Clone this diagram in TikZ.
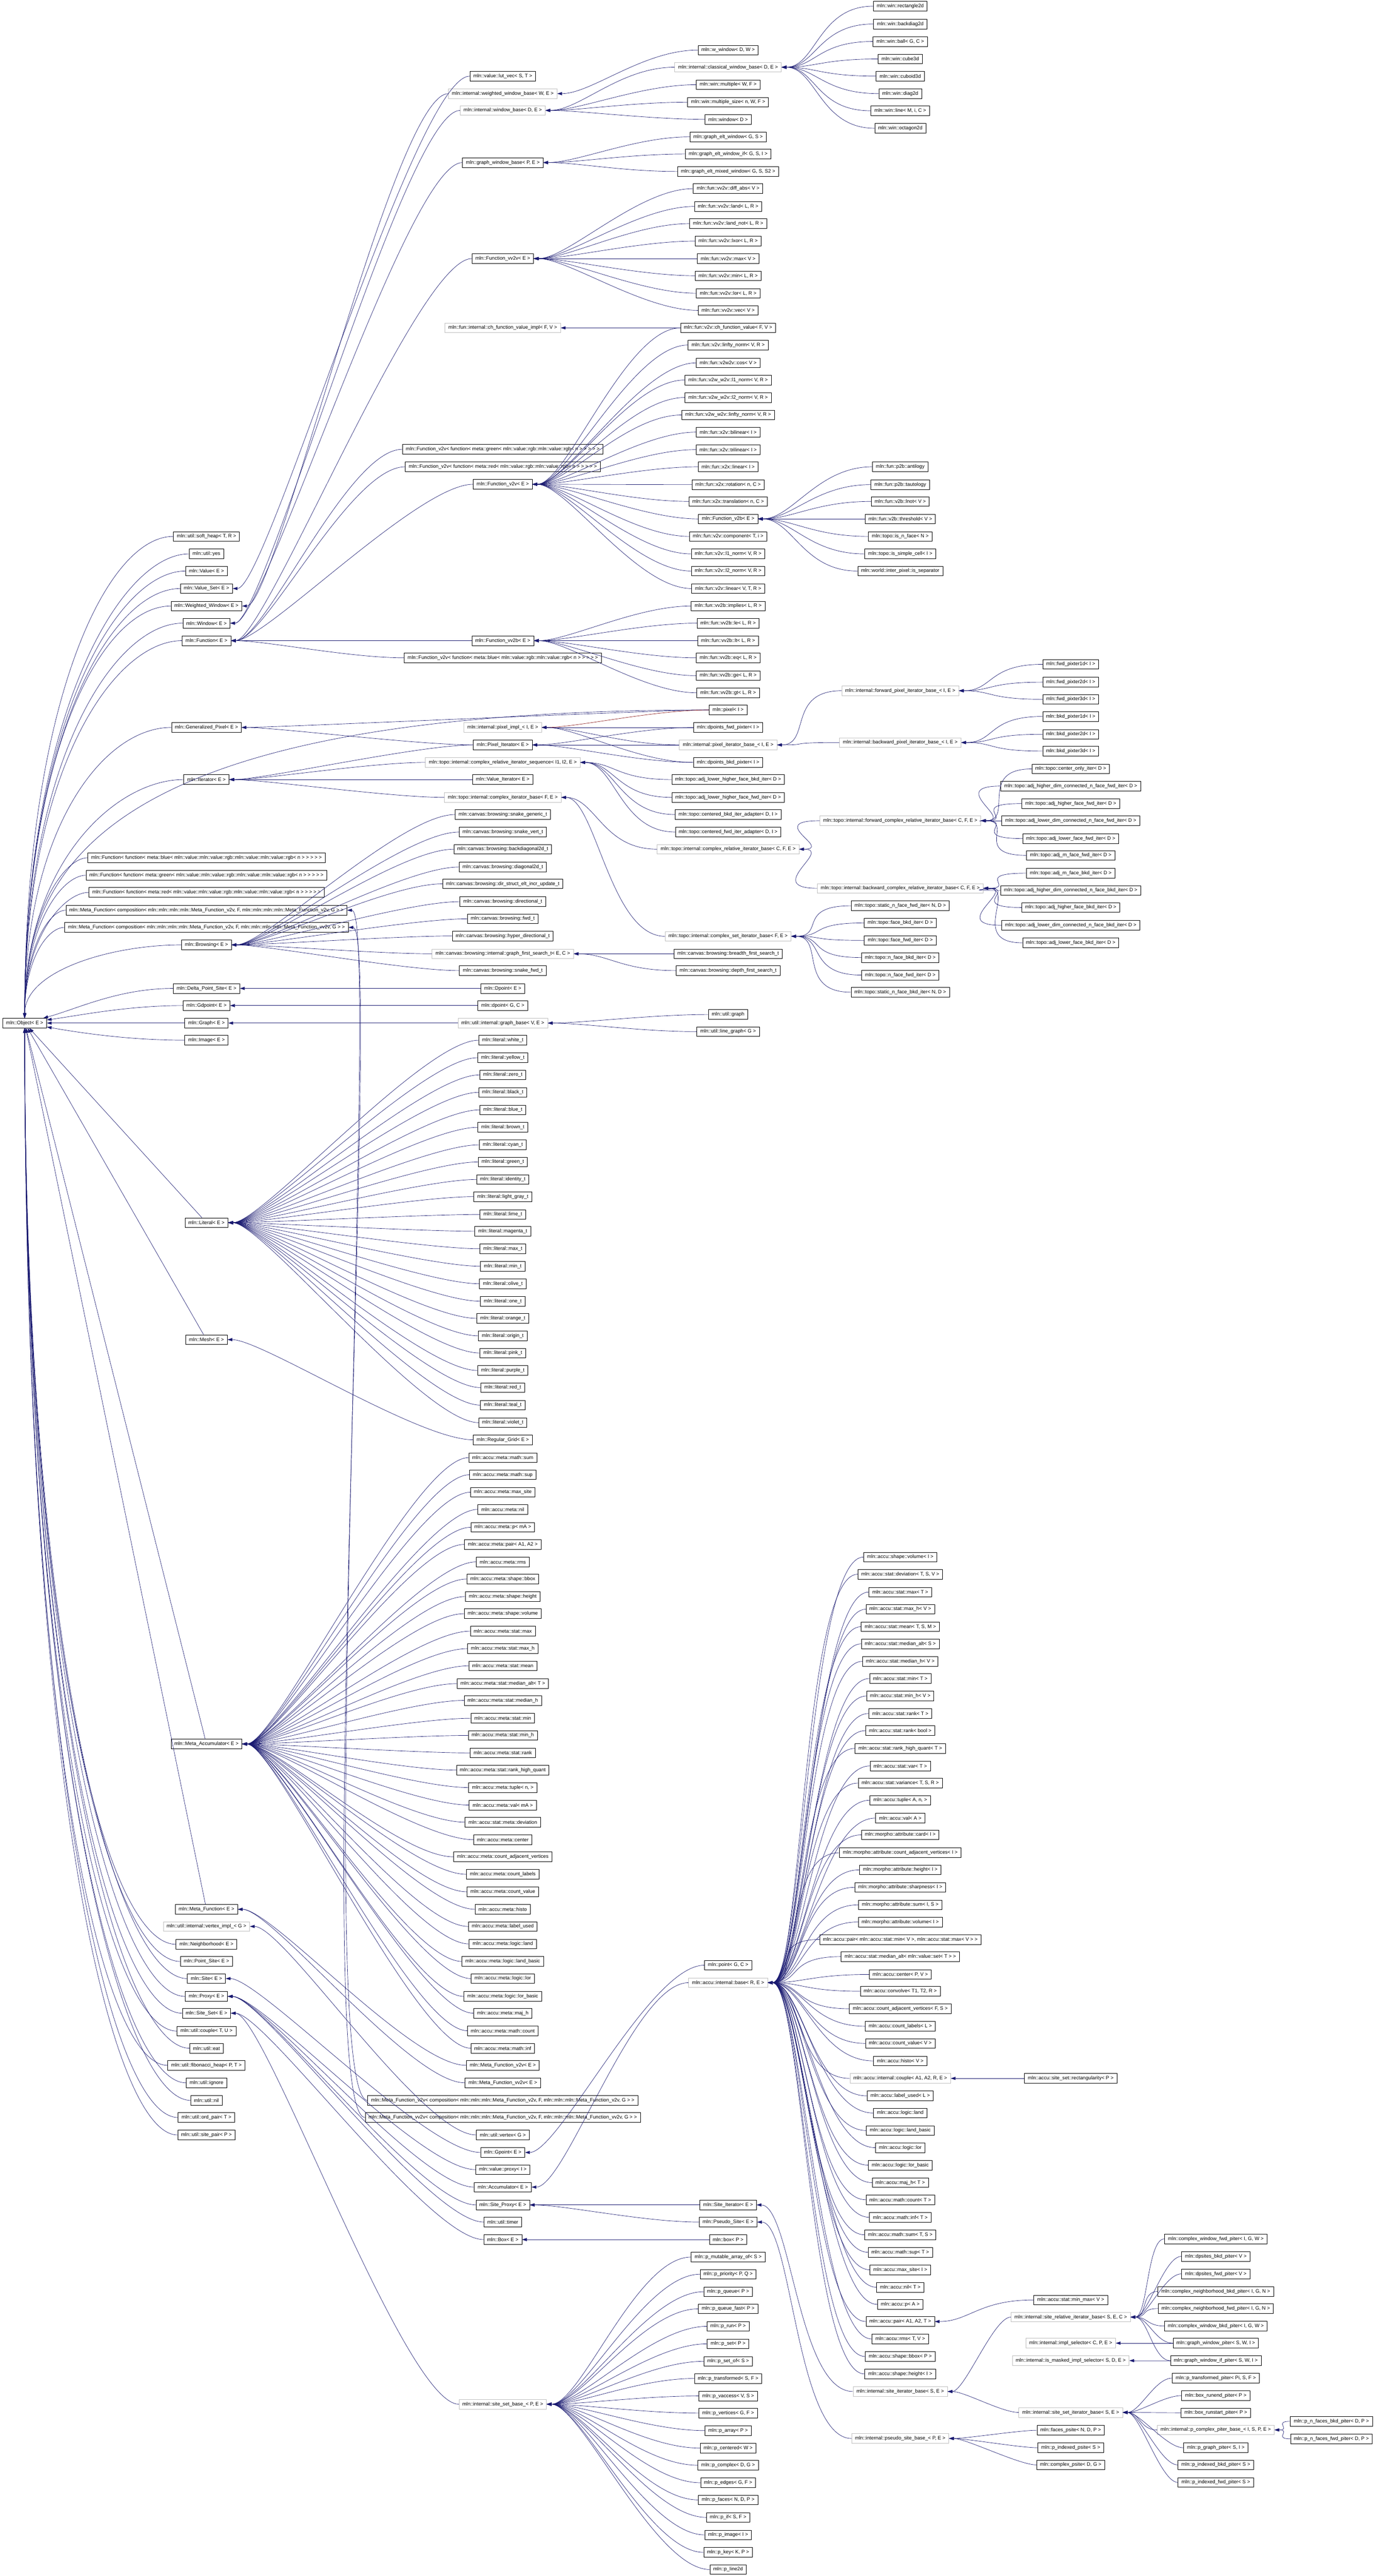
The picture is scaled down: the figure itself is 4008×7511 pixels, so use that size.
\documentclass[tikz,border=0pt]{standalone}
\usepackage{fontspec}
\setmainfont{Liberation Sans}
\usepackage{tikz}
\usetikzlibrary{arrows.meta}
\definecolor{dxblue}{HTML}{191970}
\definecolor{dxred}{HTML}{8B1A1A}
\definecolor{dxgrey}{HTML}{BFBFBF}
\newcommand{\dxfont}{\fontsize{1.45}{1.7}\selectfont}

\begin{document}
\begin{tikzpicture}[x=0.1pt, y=-0.1pt,
  cls/.style={draw, line width=0.1pt, font=\dxfont, inner xsep=1pt, inner ysep=0pt, minimum height=2.8pt},
  icls/.style={cls, draw=dxgrey},
  inh/.style={draw=dxblue, line width=0.1pt, -{Triangle[length=1.4pt,width=0.9pt]}, out=180, in=0, out distance=16pt, in distance=10pt},
  tight/.style={inh, out distance=5pt, in distance=5pt},
  priv/.style={inh, draw=dxred},
  upobj/.style 2 args={inh, in=90, out distance=#1, in distance=#2},
  downobj/.style 2 args={inh, in=-90, out distance=#1, in distance=#2},
  inhline/.style={draw=dxblue, line width=0.1pt, -{Triangle[length=1.4pt,width=0.9pt]}}]

  \useasboundingbox (0,0) rectangle (4008,7511);

  \node[cls]  (object)      at (72, 2983)   {mln::Object< E >};

  \node[cls]  (softheap)    at (602, 1564)  {mln::util::soft\_heap< T, R >};
  \node[cls]  (utilyes)     at (602, 1615)  {mln::util::yes};
  \node[cls]  (value)       at (602, 1665)  {mln::Value< E >};
  \node[cls]  (valueset)    at (602, 1716)  {mln::Value\_Set< E >};
  \node[cls]  (wwindow)     at (602, 1767)  {mln::Weighted\_Window< E >};
  \node[cls]  (window)      at (602, 1817)  {mln::Window< E >};
  \node[cls]  (function)    at (602, 1868)  {mln::Function< E >};
  \node[cls]  (genpixel)    at (602, 2121)  {mln::Generalized\_Pixel< E >};
  \node[cls]  (iterator)    at (602, 2273)  {mln::Iterator< E >};
  \node[cls]  (fblue)       at (602, 2501)  {mln::Function< function< meta::blue< mln::value::mln::value::rgb::mln::value::mln::value::rgb< n > > > > >};
  \node[cls]  (fgreen)      at (602, 2552)  {mln::Function< function< meta::green< mln::value::mln::value::rgb::mln::value::mln::value::rgb< n > > > > >};
  \node[cls]  (fred)        at (602, 2602)  {mln::Function< function< meta::red< mln::value::mln::value::rgb::mln::value::mln::value::rgb< n > > > > >};
  \node[cls]  (mfcompa)     at (602, 2654)  {mln::Meta\_Function< composition< mln::mln::mln::mln::Meta\_Function\_v2v, F, mln::mln::mln::mln::Meta\_Function\_v2v, G > >};
  \node[cls]  (mfcompb)     at (602, 2704)  {mln::Meta\_Function< composition< mln::mln::mln::mln::Meta\_Function\_v2v, F, mln::mln::mln::mln::Meta\_Function\_vv2v, G > >};
  \node[cls]  (browsing)    at (602, 2755)  {mln::Browsing< E >};
  \node[cls]  (deltapsite)  at (602, 2882)  {mln::Delta\_Point\_Site< E >};
  \node[cls]  (gdpoint)     at (602, 2932)  {mln::Gdpoint< E >};
  \node[cls]  (graph)       at (602, 2983)  {mln::Graph< E >};
  \node[cls]  (image)       at (602, 3033)  {mln::Image< E >};
  \node[cls]  (literal)     at (602, 3565)  {mln::Literal< E >};
  \node[cls]  (mesh)        at (602, 3906)  {mln::Mesh< E >};
  \node[cls]  (metaaccu)    at (602, 5085)  {mln::Meta\_Accumulator< E >};
  \node[cls]  (metafun)     at (602, 5567)  {mln::Meta\_Function< E >};
  \node[icls] (vertexeximpl) at (602, 5617) {mln::util::internal::vertex\_impl\_< G >};
  \node[cls]  (neighb)      at (602, 5669)  {mln::Neighborhood< E >};
  \node[cls]  (pointsite)   at (602, 5719)  {mln::Point\_Site< E >};
  \node[cls]  (site)        at (602, 5769)  {mln::Site< E >};
  \node[cls]  (proxy)       at (602, 5821)  {mln::Proxy< E >};
  \node[cls]  (siteset)     at (602, 5870)  {mln::Site\_Set< E >};
  \node[cls]  (couple)      at (602, 5922)  {mln::util::couple< T, U >};
  \node[cls]  (eat)         at (602, 5972)  {mln::util::eat};
  \node[cls]  (fibheap)     at (602, 6022)  {mln::util::fibonacci\_heap< P, T >};
  \node[cls]  (ignore)      at (602, 6073)  {mln::util::ignore};
  \node[cls]  (nil)         at (602, 6124)  {mln::util::nil};
  \node[cls]  (ordpair)     at (602, 6174)  {mln::util::ord\_pair< T >};
  \node[cls]  (sitepair)    at (602, 6225)  {mln::util::site\_pair< P >};

  \node[cls]  (lutvec)      at (1466, 222)  {mln::value::lut\_vec< S, T >};
  \node[icls] (wwinbase)    at (1466, 273)  {mln::internal::weighted\_window\_base< W, E >};
  \node[icls] (winbase)     at (1466, 322)  {mln::internal::window\_base< D, E >};
  \node[cls]  (graphwinbase) at (1466, 474) {mln::graph\_window\_base< P, E >};
  \node[cls]  (fvv2v)       at (1466, 754)  {mln::Function\_vv2v< E >};
  \node[icls] (chfvimpl)    at (1466, 956)  {mln::fun::internal::ch\_function\_value\_impl< F, V >};
  \node[cls]  (fv2vgreen)   at (1466, 1310) {mln::Function\_v2v< function< meta::green< mln::value::rgb::mln::value::rgb< n > > > > >};
  \node[cls]  (fv2vred)     at (1466, 1361) {mln::Function\_v2v< function< meta::red< mln::value::rgb::mln::value::rgb< n > > > > >};
  \node[cls]  (fv2v)        at (1466, 1412) {mln::Function\_v2v< E >};
  \node[cls]  (fvv2b)       at (1466, 1868) {mln::Function\_vv2b< E >};
  \node[cls]  (fv2vblue)    at (1466, 1918) {mln::Function\_v2v< function< meta::blue< mln::value::rgb::mln::value::rgb< n > > > > >};
  \node[icls] (piximpl)     at (1466, 2121) {mln::internal::pixel\_impl\_< I, E >};
  \node[cls]  (pixiter)     at (1466, 2172) {mln::Pixel\_Iterator< E >};
  \node[icls] (crisequence) at (1466, 2223) {mln::topo::internal::complex\_relative\_iterator\_sequence< I1, I2, E >};
  \node[cls]  (valueiter)   at (1466, 2273) {mln::Value\_Iterator< E >};
  \node[icls] (cplxiterbase) at (1466, 2325) {mln::topo::internal::complex\_iterator\_base< F, E >};
  \node[cls]  (snakegeneric) at (1466, 2375) {mln::canvas::browsing::snake\_generic\_t};
  \node[cls]  (snakevert)   at (1466, 2426) {mln::canvas::browsing::snake\_vert\_t};
  \node[cls]  (backdiag)    at (1466, 2476) {mln::canvas::browsing::backdiagonal2d\_t};
  \node[cls]  (diag)        at (1466, 2528) {mln::canvas::browsing::diagonal2d\_t};
  \node[cls]  (dirstruct)   at (1466, 2577) {mln::canvas::browsing::dir\_struct\_elt\_incr\_update\_t};
  \node[cls]  (directional) at (1466, 2629) {mln::canvas::browsing::directional\_t};
  \node[cls]  (fwdt)        at (1466, 2679) {mln::canvas::browsing::fwd\_t};
  \node[cls]  (hyperdir)    at (1466, 2729) {mln::canvas::browsing::hyper\_directional\_t};
  \node[icls] (graphfirst)  at (1466, 2781) {mln::canvas::browsing::internal::graph\_first\_search\_t< E, C >};
  \node[cls]  (snakefwd)    at (1466, 2830) {mln::canvas::browsing::snake\_fwd\_t};
  \node[cls]  (dpointE)     at (1466, 2882) {mln::Dpoint< E >};
  \node[cls]  (dpointGC)    at (1466, 2932) {mln::dpoint< G, C >};
  \node[icls] (graphbase)   at (1466, 2983) {mln::util::internal::graph\_base< V, E >};
  \node[cls]  (lwhite)      at (1466, 3033) {mln::literal::white\_t};
  \node[cls]  (lyellow)     at (1466, 3084) {mln::literal::yellow\_t};
  \node[cls]  (lzero)       at (1466, 3134) {mln::literal::zero\_t};
  \node[cls]  (lblack)      at (1466, 3185) {mln::literal::black\_t};
  \node[cls]  (lblue)       at (1466, 3236) {mln::literal::blue\_t};
  \node[cls]  (lbrown)      at (1466, 3287) {mln::literal::brown\_t};
  \node[cls]  (lcyan)       at (1466, 3338) {mln::literal::cyan\_t};
  \node[cls]  (lgreen)      at (1466, 3388) {mln::literal::green\_t};
  \node[cls]  (lidentity)   at (1466, 3439) {mln::literal::identity\_t};
  \node[cls]  (llightgray)  at (1466, 3489) {mln::literal::light\_gray\_t};
  \node[cls]  (llime)       at (1466, 3541) {mln::literal::lime\_t};
  \node[cls]  (lmagenta)    at (1466, 3590) {mln::literal::magenta\_t};
  \node[cls]  (lmax)        at (1466, 3641) {mln::literal::max\_t};
  \node[cls]  (lmin)        at (1466, 3692) {mln::literal::min\_t};
  \node[cls]  (lolive)      at (1466, 3743) {mln::literal::olive\_t};
  \node[cls]  (lone)        at (1466, 3794) {mln::literal::one\_t};
  \node[cls]  (lorange)     at (1466, 3844) {mln::literal::orange\_t};
  \node[cls]  (lorigin)     at (1466, 3895) {mln::literal::origin\_t};
  \node[cls]  (lpink)       at (1466, 3945) {mln::literal::pink\_t};
  \node[cls]  (lpurple)     at (1466, 3996) {mln::literal::purple\_t};
  \node[cls]  (lred)        at (1466, 4046) {mln::literal::red\_t};
  \node[cls]  (lteal)       at (1466, 4097) {mln::literal::teal\_t};
  \node[cls]  (lviolet)     at (1466, 4148) {mln::literal::violet\_t};
  \node[cls]  (reggrid)     at (1466, 4198) {mln::Regular\_Grid< E >};
  \node[cls]  (amsum)       at (1466, 4250) {mln::accu::meta::math::sum};
  \node[cls]  (amsup)       at (1466, 4300) {mln::accu::meta::math::sup};
  \node[cls]  (ammaxsite)   at (1466, 4351) {mln::accu::meta::max\_site};
  \node[cls]  (amnil)       at (1466, 4401) {mln::accu::meta::nil};
  \node[cls]  (amp)         at (1466, 4453) {mln::accu::meta::p< mA >};
  \node[cls]  (ampair)      at (1466, 4503) {mln::accu::meta::pair< A1, A2 >};
  \node[cls]  (amrms)       at (1466, 4554) {mln::accu::meta::rms};
  \node[cls]  (ambbox)      at (1466, 4604) {mln::accu::meta::shape::bbox};
  \node[cls]  (amheight)    at (1466, 4655) {mln::accu::meta::shape::height};
  \node[cls]  (amvolume)    at (1466, 4705) {mln::accu::meta::shape::volume};
  \node[cls]  (amstmax)     at (1466, 4756) {mln::accu::meta::stat::max};
  \node[cls]  (amstmaxh)    at (1466, 4807) {mln::accu::meta::stat::max\_h};
  \node[cls]  (amstmean)    at (1466, 4857) {mln::accu::meta::stat::mean};
  \node[cls]  (amstmedalt)  at (1466, 4909) {mln::accu::meta::stat::median\_alt< T >};
  \node[cls]  (amstmedh)    at (1466, 4958) {mln::accu::meta::stat::median\_h};
  \node[cls]  (amstmin)     at (1466, 5010) {mln::accu::meta::stat::min};
  \node[cls]  (amstminh)    at (1466, 5060) {mln::accu::meta::stat::min\_h};
  \node[cls]  (amstrank)    at (1466, 5111) {mln::accu::meta::stat::rank};
  \node[cls]  (amstrankhq)  at (1466, 5161) {mln::accu::meta::stat::rank\_high\_quant};
  \node[cls]  (amtuple)     at (1466, 5212) {mln::accu::meta::tuple< n, >};
  \node[cls]  (amval)       at (1466, 5263) {mln::accu::meta::val< mA >};
  \node[cls]  (amdeviation) at (1466, 5313) {mln::accu::stat::meta::deviation};
  \node[cls]  (amcenter)    at (1466, 5364) {mln::accu::meta::center};
  \node[cls]  (amcountadj)  at (1466, 5414) {mln::accu::meta::count\_adjacent\_vertices};
  \node[cls]  (amcountlabels) at (1466, 5465) {mln::accu::meta::count\_labels};
  \node[cls]  (amcountvalue) at (1466, 5516) {mln::accu::meta::count\_value};
  \node[cls]  (amhisto)     at (1466, 5567) {mln::accu::meta::histo};
  \node[cls]  (amlabelused) at (1466, 5617) {mln::accu::meta::label\_used};
  \node[cls]  (amland)      at (1466, 5668) {mln::accu::meta::logic::land};
  \node[cls]  (amlandbasic) at (1466, 5719) {mln::accu::meta::logic::land\_basic};
  \node[cls]  (amlor)       at (1466, 5769) {mln::accu::meta::logic::lor};
  \node[cls]  (amlorbasic)  at (1466, 5821) {mln::accu::meta::logic::lor\_basic};
  \node[cls]  (ammajh)      at (1466, 5870) {mln::accu::meta::maj\_h};
  \node[cls]  (ammathcount) at (1466, 5921) {mln::accu::meta::math::count};
  \node[cls]  (ammathinf)   at (1466, 5972) {mln::accu::meta::math::inf};
  \node[cls]  (mfv2v)       at (1466, 6022) {mln::Meta\_Function\_v2v< E >};
  \node[cls]  (mfvv2v)      at (1466, 6073) {mln::Meta\_Function\_vv2v< E >};
  \node[cls]  (mfv2vcomp)   at (1466, 6124) {mln::Meta\_Function\_v2v< composition< mln::mln::mln::Meta\_Function\_v2v, F, mln::mln::mln::Meta\_Function\_v2v, G > >};
  \node[cls]  (mfvv2vcomp)  at (1466, 6174) {mln::Meta\_Function\_vv2v< composition< mln::mln::mln::Meta\_Function\_v2v, F, mln::mln::mln::Meta\_Function\_vv2v, G > >};
  \node[cls]  (utilvertex)  at (1466, 6225) {mln::util::vertex< G >};
  \node[cls]  (gpoint)      at (1466, 6276) {mln::Gpoint< E >};
  \node[cls]  (valueproxy)  at (1466, 6326) {mln::value::proxy< I >};
  \node[cls]  (accumulator) at (1466, 6377) {mln::Accumulator< E >};
  \node[cls]  (siteproxy)   at (1466, 6429) {mln::Site\_Proxy< E >};
  \node[cls]  (timer)       at (1466, 6479) {mln::util::timer};
  \node[cls]  (boxE)        at (1466, 6530) {mln::Box< E >};
  \node[icls] (sitesetbase) at (1466, 7010) {mln::internal::site\_set\_base\_< P, E >};

  \node[cls]  (wwindowDW)   at (2123, 146)  {mln::w\_window< D, W >};
  \node[icls] (classicalwin) at (2123, 196) {mln::internal::classical\_window\_base< D, E >};
  \node[cls]  (winmultiple) at (2123, 247)  {mln::win::multiple< W, F >};
  \node[cls]  (winmultsize) at (2123, 298)  {mln::win::multiple\_size< n, W, F >};
  \node[cls]  (windowD)     at (2123, 348)  {mln::window< D >};
  \node[cls]  (graphelt)    at (2123, 399)  {mln::graph\_elt\_window< G, S >};
  \node[cls]  (grapheltif)  at (2123, 449)  {mln::graph\_elt\_window\_if< G, S, I >};
  \node[cls]  (grapheltmixed) at (2123, 500) {mln::graph\_elt\_mixed\_window< G, S, S2 >};
  \node[cls]  (diffabs)     at (2123, 550)  {mln::fun::vv2v::diff\_abs< V >};
  \node[cls]  (vvland)      at (2123, 602)  {mln::fun::vv2v::land< L, R >};
  \node[cls]  (vvlandnot)   at (2123, 652)  {mln::fun::vv2v::land\_not< L, R >};
  \node[cls]  (vvlxor)      at (2123, 703)  {mln::fun::vv2v::lxor< L, R >};
  \node[cls]  (vvmax)       at (2123, 754)  {mln::fun::vv2v::max< V >};
  \node[cls]  (vvmin)       at (2123, 804)  {mln::fun::vv2v::min< L, R >};
  \node[cls]  (vvlor)       at (2123, 855)  {mln::fun::vv2v::lor< L, R >};
  \node[cls]  (vvvec)       at (2123, 905)  {mln::fun::vv2v::vec< V >};
  \node[cls]  (chfv)        at (2123, 956)  {mln::fun::v2v::ch\_function\_value< F, V >};
  \node[cls]  (linftynorm)  at (2123, 1006) {mln::fun::v2v::linfty\_norm< V, R >};
  \node[cls]  (v2w2vcos)    at (2123, 1058) {mln::fun::v2w2v::cos< V >};
  \node[cls]  (wl1norm)     at (2123, 1108) {mln::fun::v2w\_w2v::l1\_norm< V, R >};
  \node[cls]  (wl2norm)     at (2123, 1159) {mln::fun::v2w\_w2v::l2\_norm< V, R >};
  \node[cls]  (wlinfty)     at (2123, 1210) {mln::fun::v2w\_w2v::linfty\_norm< V, R >};
  \node[cls]  (bilinear)    at (2123, 1260) {mln::fun::x2v::bilinear< I >};
  \node[cls]  (trilinear)   at (2123, 1311) {mln::fun::x2v::trilinear< I >};
  \node[cls]  (x2xlinear)   at (2123, 1361) {mln::fun::x2x::linear< I >};
  \node[cls]  (rotation)    at (2123, 1413) {mln::fun::x2x::rotation< n, C >};
  \node[cls]  (translation) at (2123, 1462) {mln::fun::x2x::translation< n, C >};
  \node[cls]  (fv2b)        at (2123, 1513) {mln::Function\_v2b< E >};
  \node[cls]  (component)   at (2123, 1564) {mln::fun::v2v::component< T, i >};
  \node[cls]  (l1norm)      at (2123, 1615) {mln::fun::v2v::l1\_norm< V, R >};
  \node[cls]  (l2norm)      at (2123, 1665) {mln::fun::v2v::l2\_norm< V, R >};
  \node[cls]  (v2vlinear)   at (2123, 1716) {mln::fun::v2v::linear< V, T, R >};
  \node[cls]  (implies)     at (2123, 1767) {mln::fun::vv2b::implies< L, R >};
  \node[cls]  (le)          at (2123, 1817) {mln::fun::vv2b::le< L, R >};
  \node[cls]  (lt)          at (2123, 1868) {mln::fun::vv2b::lt< L, R >};
  \node[cls]  (eq)          at (2123, 1918) {mln::fun::vv2b::eq< L, R >};
  \node[cls]  (ge)          at (2123, 1970) {mln::fun::vv2b::ge< L, R >};
  \node[cls]  (gt)          at (2123, 2020) {mln::fun::vv2b::gt< L, R >};
  \node[cls]  (pixel)       at (2123, 2070) {mln::pixel< I >};
  \node[cls]  (dpfwdpix)    at (2123, 2121) {mln::dpoints\_fwd\_pixter< I >};
  \node[icls] (pixiterbase) at (2123, 2172) {mln::internal::pixel\_iterator\_base\_< I, E >};
  \node[cls]  (dpbkdpix)    at (2123, 2223) {mln::dpoints\_bkd\_pixter< I >};
  \node[cls]  (alhfbkd)     at (2123, 2273) {mln::topo::adj\_lower\_higher\_face\_bkd\_iter< D >};
  \node[cls]  (alhffwd)     at (2123, 2325) {mln::topo::adj\_lower\_higher\_face\_fwd\_iter< D >};
  \node[cls]  (centbkd)     at (2123, 2375) {mln::topo::centered\_bkd\_iter\_adapter< D, I >};
  \node[cls]  (centfwd)     at (2123, 2426) {mln::topo::centered\_fwd\_iter\_adapter< D, I >};
  \node[icls] (crelbase)    at (2123, 2476) {mln::topo::internal::complex\_relative\_iterator\_base< C, F, E >};
  \node[icls] (csetbase)    at (2123, 2730) {mln::topo::internal::complex\_set\_iterator\_base< F, E >};
  \node[cls]  (bfs)         at (2123, 2781) {mln::canvas::browsing::breadth\_first\_search\_t};
  \node[cls]  (dfs)         at (2123, 2830) {mln::canvas::browsing::depth\_first\_search\_t};
  \node[cls]  (utilgraph)   at (2123, 2958) {mln::util::graph};
  \node[cls]  (linegraph)   at (2123, 3008) {mln::util::line\_graph< G >};
  \node[cls]  (pointGC)     at (2123, 5730) {mln::point< G, C >};
  \node[icls] (accubase)    at (2123, 5781) {mln::accu::internal::base< R, E >};
  \node[cls]  (siteiter)    at (2123, 6429) {mln::Site\_Iterator< E >};
  \node[cls]  (pseudosite)  at (2123, 6479) {mln::Pseudo\_Site< E >};
  \node[cls]  (boxP)        at (2123, 6530) {mln::box< P >};
  \node[cls]  (pmutarr)     at (2123, 6581) {mln::p\_mutable\_array\_of< S >};
  \node[cls]  (ppriority)   at (2123, 6631) {mln::p\_priority< P, Q >};
  \node[cls]  (pqueue)      at (2123, 6682) {mln::p\_queue< P >};
  \node[cls]  (pqueuefast)  at (2123, 6732) {mln::p\_queue\_fast< P >};
  \node[cls]  (prun)        at (2123, 6783) {mln::p\_run< P >};
  \node[cls]  (pset)        at (2123, 6834) {mln::p\_set< P >};
  \node[cls]  (psetof)      at (2123, 6885) {mln::p\_set\_of< S >};
  \node[cls]  (ptransf)     at (2123, 6935) {mln::p\_transformed< S, F >};
  \node[cls]  (pvaccess)    at (2123, 6986) {mln::p\_vaccess< V, S >};
  \node[cls]  (pvertices)   at (2123, 7036) {mln::p\_vertices< G, F >};
  \node[cls]  (parray)      at (2123, 7087) {mln::p\_array< P >};
  \node[cls]  (pcentered)   at (2123, 7138) {mln::p\_centered< W >};
  \node[cls]  (pcomplex)    at (2123, 7188) {mln::p\_complex< D, G >};
  \node[cls]  (pedges)      at (2123, 7239) {mln::p\_edges< G, F >};
  \node[cls]  (pfaces)      at (2123, 7289) {mln::p\_faces< N, D, P >};
  \node[cls]  (pif)         at (2123, 7340) {mln::p\_if< S, F >};
  \node[cls]  (pimage)      at (2123, 7391) {mln::p\_image< I >};
  \node[cls]  (pkey)        at (2123, 7442) {mln::p\_key< K, P >};
  \node[cls]  (pline2d)     at (2123, 7492) {mln::p\_line2d};

  \node[cls]  (rect2d)      at (2625, 18)   {mln::win::rectangle2d};
  \node[cls]  (backdiag2d)  at (2625, 70)   {mln::win::backdiag2d};
  \node[cls]  (ball)        at (2625, 121)  {mln::win::ball< G, C >};
  \node[cls]  (cube3d)      at (2625, 172)  {mln::win::cube3d};
  \node[cls]  (cuboid3d)    at (2625, 222)  {mln::win::cuboid3d};
  \node[cls]  (diag2d)      at (2625, 273)  {mln::win::diag2d};
  \node[cls]  (winline)     at (2625, 323)  {mln::win::line< M, i, C >};
  \node[cls]  (octagon2d)   at (2625, 374)  {mln::win::octagon2d};
  \node[cls]  (antilogy)    at (2625, 1361) {mln::fun::p2b::antilogy};
  \node[cls]  (tautology)   at (2625, 1413) {mln::fun::p2b::tautology};
  \node[cls]  (lnot)        at (2625, 1462) {mln::fun::v2b::lnot< V >};
  \node[cls]  (threshold)   at (2625, 1513) {mln::fun::v2b::threshold< V >};
  \node[cls]  (isnface)     at (2625, 1564) {mln::topo::is\_n\_face< N >};
  \node[cls]  (issimple)    at (2625, 1615) {mln::topo::is\_simple\_cell< I >};
  \node[cls]  (isseparator) at (2625, 1665) {mln::world::inter\_pixel::is\_separator};
  \node[icls] (fwdpixbase)  at (2625, 2014) {mln::internal::forward\_pixel\_iterator\_base\_< I, E >};
  \node[icls] (bkdpixbase)  at (2625, 2165) {mln::internal::backward\_pixel\_iterator\_base\_< I, E >};
  \node[icls] (fwdcrelbase) at (2625, 2393) {mln::topo::internal::forward\_complex\_relative\_iterator\_base< C, F, E >};
  \node[icls] (bkdcrelbase) at (2625, 2590) {mln::topo::internal::backward\_complex\_relative\_iterator\_base< C, F, E >};
  \node[cls]  (snffwd)      at (2625, 2641) {mln::topo::static\_n\_face\_fwd\_iter< N, D >};
  \node[cls]  (facebkd)     at (2625, 2691) {mln::topo::face\_bkd\_iter< D >};
  \node[cls]  (facefwd)     at (2625, 2742) {mln::topo::face\_fwd\_iter< D >};
  \node[cls]  (nfacebkd)    at (2625, 2792) {mln::topo::n\_face\_bkd\_iter< D >};
  \node[cls]  (nfacefwd)    at (2625, 2843) {mln::topo::n\_face\_fwd\_iter< D >};
  \node[cls]  (snfbkd)      at (2625, 2893) {mln::topo::static\_n\_face\_bkd\_iter< N, D >};
  \node[cls]  (ashvolume)   at (2625, 4540) {mln::accu::shape::volume< I >};
  \node[cls]  (adeviation)  at (2625, 4590) {mln::accu::stat::deviation< T, S, V >};
  \node[cls]  (astmax)      at (2625, 4642) {mln::accu::stat::max< T >};
  \node[cls]  (astmaxh)     at (2625, 4692) {mln::accu::stat::max\_h< V >};
  \node[cls]  (astmean)     at (2625, 4743) {mln::accu::stat::mean< T, S, M >};
  \node[cls]  (astmedalt)   at (2625, 4793) {mln::accu::stat::median\_alt< S >};
  \node[cls]  (astmedh)     at (2625, 4844) {mln::accu::stat::median\_h< V >};
  \node[cls]  (astmin)      at (2625, 4894) {mln::accu::stat::min< T >};
  \node[cls]  (astminh)     at (2625, 4945) {mln::accu::stat::min\_h< V >};
  \node[cls]  (astrank)     at (2625, 4996) {mln::accu::stat::rank< T >};
  \node[cls]  (astrankbool) at (2625, 5046) {mln::accu::stat::rank< bool >};
  \node[cls]  (astrankhq)   at (2625, 5098) {mln::accu::stat::rank\_high\_quant< T >};
  \node[cls]  (astvar)      at (2625, 5149) {mln::accu::stat::var< T >};
  \node[cls]  (astvariance) at (2625, 5199) {mln::accu::stat::variance< T, S, R >};
  \node[cls]  (atuple)      at (2625, 5249) {mln::accu::tuple< A, n, >};
  \node[cls]  (aval)        at (2625, 5301) {mln::accu::val< A >};
  \node[cls]  (macard)      at (2625, 5350) {mln::morpho::attribute::card< I >};
  \node[cls]  (macountadj)  at (2625, 5402) {mln::morpho::attribute::count\_adjacent\_vertices< I >};
  \node[cls]  (maheight)    at (2625, 5452) {mln::morpho::attribute::height< I >};
  \node[cls]  (masharp)     at (2625, 5503) {mln::morpho::attribute::sharpness< I >};
  \node[cls]  (masum)       at (2625, 5554) {mln::morpho::attribute::sum< I, S >};
  \node[cls]  (mavolume)    at (2625, 5604) {mln::morpho::attribute::volume< I >};
  \node[cls]  (apairminmax) at (2625, 5655) {mln::accu::pair< mln::accu::stat::min< V >, mln::accu::stat::max< V > >};
  \node[cls]  (amedaltset)  at (2625, 5705) {mln::accu::stat::median\_alt< mln::value::set< T > >};
  \node[cls]  (acenter)     at (2625, 5757) {mln::accu::center< P, V >};
  \node[cls]  (aconvolve)   at (2625, 5806) {mln::accu::convolve< T1, T2, R >};
  \node[cls]  (acountadj)   at (2625, 5857) {mln::accu::count\_adjacent\_vertices< F, S >};
  \node[cls]  (acountlabels) at (2625, 5908) {mln::accu::count\_labels< L >};
  \node[cls]  (acountvalue) at (2625, 5958) {mln::accu::count\_value< V >};
  \node[cls]  (ahisto)      at (2625, 6009) {mln::accu::histo< V >};
  \node[icls] (acouple)     at (2625, 6060) {mln::accu::internal::couple< A1, A2, R, E >};
  \node[cls]  (alabelused)  at (2625, 6111) {mln::accu::label\_used< L >};
  \node[cls]  (aland)       at (2625, 6161) {mln::accu::logic::land};
  \node[cls]  (alandbasic)  at (2625, 6212) {mln::accu::logic::land\_basic};
  \node[cls]  (alor)        at (2625, 6262) {mln::accu::logic::lor};
  \node[cls]  (alorbasic)   at (2625, 6313) {mln::accu::logic::lor\_basic};
  \node[cls]  (amajh)       at (2625, 6364) {mln::accu::maj\_h< T >};
  \node[cls]  (amathcount)  at (2625, 6414) {mln::accu::math::count< T >};
  \node[cls]  (amathinf)    at (2625, 6465) {mln::accu::math::inf< T >};
  \node[cls]  (amathsum)    at (2625, 6516) {mln::accu::math::sum< T, S >};
  \node[cls]  (amathsup)    at (2625, 6567) {mln::accu::math::sup< T >};
  \node[cls]  (amaxsite)    at (2625, 6618) {mln::accu::max\_site< I >};
  \node[cls]  (anil)        at (2625, 6669) {mln::accu::nil< T >};
  \node[cls]  (ap)          at (2625, 6719) {mln::accu::p< A >};
  \node[cls]  (apair)       at (2625, 6769) {mln::accu::pair< A1, A2, T >};
  \node[cls]  (arms)        at (2625, 6820) {mln::accu::rms< T, V >};
  \node[cls]  (abbox)       at (2625, 6871) {mln::accu::shape::bbox< P >};
  \node[cls]  (aheight)     at (2625, 6922) {mln::accu::shape::height< I >};
  \node[icls] (siteiterbase) at (2625, 6973) {mln::internal::site\_iterator\_base< S, E >};
  \node[icls] (pseudositebase) at (2625, 7110) {mln::internal::pseudo\_site\_base\_< P, E >};

  \node[cls]  (fwdpix1d)    at (3122, 1937) {mln::fwd\_pixter1d< I >};
  \node[cls]  (fwdpix2d)    at (3122, 1989) {mln::fwd\_pixter2d< I >};
  \node[cls]  (fwdpix3d)    at (3122, 2039) {mln::fwd\_pixter3d< I >};
  \node[cls]  (bkdpix1d)    at (3122, 2089) {mln::bkd\_pixter1d< I >};
  \node[cls]  (bkdpix2d)    at (3122, 2141) {mln::bkd\_pixter2d< I >};
  \node[cls]  (bkdpix3d)    at (3122, 2190) {mln::bkd\_pixter3d< I >};
  \node[cls]  (centeronly)  at (3122, 2242) {mln::topo::center\_only\_iter< D >};
  \node[cls]  (ahdcfwd)     at (3122, 2292) {mln::topo::adj\_higher\_dim\_connected\_n\_face\_fwd\_iter< D >};
  \node[cls]  (ahffwd)      at (3122, 2343) {mln::topo::adj\_higher\_face\_fwd\_iter< D >};
  \node[cls]  (aldcfwd)     at (3122, 2393) {mln::topo::adj\_lower\_dim\_connected\_n\_face\_fwd\_iter< D >};
  \node[cls]  (alffwd)      at (3122, 2445) {mln::topo::adj\_lower\_face\_fwd\_iter< D >};
  \node[cls]  (amffwd)      at (3122, 2494) {mln::topo::adj\_m\_face\_fwd\_iter< D >};
  \node[cls]  (amfbkd)      at (3122, 2546) {mln::topo::adj\_m\_face\_bkd\_iter< D >};
  \node[cls]  (ahdcbkd)     at (3122, 2596) {mln::topo::adj\_higher\_dim\_connected\_n\_face\_bkd\_iter< D >};
  \node[cls]  (ahfbkd)      at (3122, 2646) {mln::topo::adj\_higher\_face\_bkd\_iter< D >};
  \node[cls]  (aldcbkd)     at (3122, 2698) {mln::topo::adj\_lower\_dim\_connected\_n\_face\_bkd\_iter< D >};
  \node[cls]  (alfbkd)      at (3122, 2749) {mln::topo::adj\_lower\_face\_bkd\_iter< D >};
  \node[cls]  (rectangularity) at (3122, 6060) {mln::accu::site\_set::rectangularity< P >};
  \node[cls]  (minmax)      at (3122, 6706) {mln::accu::stat::min\_max< V >};
  \node[icls] (siterelbase) at (3122, 6756) {mln::internal::site\_relative\_iterator\_base< S, E, C >};
  \node[icls] (implsel)     at (3122, 6832) {mln::internal::impl\_selector< C, P, E >};
  \node[icls] (maskedsel)   at (3122, 6883) {mln::internal::is\_masked\_impl\_selector< S, D, E >};
  \node[icls] (sitesetiterbase) at (3122, 7034) {mln::internal::site\_set\_iterator\_base< S, E >};
  \node[cls]  (facespsite)  at (3122, 7086) {mln::faces\_psite< N, D, P >};
  \node[cls]  (pidxpsite)   at (3122, 7137) {mln::p\_indexed\_psite< S >};
  \node[cls]  (cplxpsite)   at (3122, 7187) {mln::complex\_psite< D, G >};

  \node[cls]  (cwinfwd)     at (3545, 6528) {mln::complex\_window\_fwd\_piter< I, G, W >};
  \node[cls]  (dpsbkd)      at (3545, 6579) {mln::dpsites\_bkd\_piter< V >};
  \node[cls]  (dpsfwd)      at (3545, 6630) {mln::dpsites\_fwd\_piter< V >};
  \node[cls]  (cnbhbkd)     at (3545, 6681) {mln::complex\_neighborhood\_bkd\_piter< I, G, N >};
  \node[cls]  (cnbhfwd)     at (3545, 6731) {mln::complex\_neighborhood\_fwd\_piter< I, G, N >};
  \node[cls]  (cwinbkd)     at (3545, 6782) {mln::complex\_window\_bkd\_piter< I, G, W >};
  \node[cls]  (gwinpiter)   at (3545, 6832) {mln::graph\_window\_piter< S, W, I >};
  \node[cls]  (gwinifpiter) at (3545, 6883) {mln::graph\_window\_if\_piter< S, W, I >};
  \node[cls]  (ptransfpiter) at (3545, 6934) {mln::p\_transformed\_piter< Pi, S, F >};
  \node[cls]  (runendpiter) at (3545, 6985) {mln::box\_runend\_piter< P >};
  \node[cls]  (runstartpiter) at (3545, 7035) {mln::box\_runstart\_piter< P >};
  \node[icls] (pcplxpiterbase) at (3545, 7085) {mln::internal::p\_complex\_piter\_base\_< I, S, P, E >};
  \node[cls]  (pgraphpiter) at (3545, 7137) {mln::p\_graph\_piter< S, I >};
  \node[cls]  (pidxbkd)     at (3545, 7187) {mln::p\_indexed\_bkd\_piter< S >};
  \node[cls]  (pidxfwd)     at (3545, 7238) {mln::p\_indexed\_fwd\_piter< S >};

  \node[cls]  (pnfacesbkd)  at (3882, 7060) {mln::p\_n\_faces\_bkd\_piter< D, P >};
  \node[cls]  (pnfacesfwd)  at (3882, 7111) {mln::p\_n\_faces\_fwd\_piter< D, P >};


  \draw (softheap) edge[upobj={20pt}{90pt}] (object);
  \draw (utilyes) edge[upobj={20pt}{88pt}] (object);
  \draw (value) edge[upobj={20pt}{85pt}] (object);
  \draw (valueset) edge[upobj={20pt}{82pt}] (object);
  \draw (wwindow) edge[upobj={20pt}{78pt}] (object);
  \draw (window) edge[upobj={20pt}{75pt}] (object);
  \draw (function) edge[upobj={20pt}{72pt}] (object);
  \draw (genpixel) edge[upobj={20pt}{55pt}] (object);
  \draw (iterator) edge[upobj={20pt}{45pt}] (object);
  \draw (fblue) edge[upobj={7pt}{30pt}] (object);
  \draw (fgreen) edge[upobj={7pt}{27pt}] (object);
  \draw (fred) edge[upobj={7pt}{24pt}] (object);
  \draw (mfcompa) edge[upobj={5pt}{20pt}] (object);
  \draw (mfcompb) edge[upobj={5pt}{17pt}] (object);
  \draw (browsing) edge[upobj={20pt}{14pt}] (object);
  \draw (pixel) edge[upobj={175pt}{45pt}] (object);
  \draw (deltapsite) edge[inh, in=15] (object);
  \draw (gdpoint) edge[inh, in=8] (object);
  \draw (graph) edge[inh] (object);
  \draw (image) edge[inh, in=-10] (object);
  \draw (literal) edge[inhline] (object);
  \draw (mesh) edge[inhline] (object);
  \draw (metaaccu) edge[inhline] (object);
  \draw (metafun) edge[inhline] (object);
  \draw (neighb) edge[downobj={20pt}{180pt}] (object);
  \draw (pointsite) edge[downobj={20pt}{183pt}] (object);
  \draw (site) edge[downobj={20pt}{186pt}] (object);
  \draw (proxy) edge[downobj={20pt}{190pt}] (object);
  \draw (siteset) edge[downobj={20pt}{193pt}] (object);
  \draw (couple) edge[downobj={20pt}{196pt}] (object);
  \draw (eat) edge[downobj={20pt}{200pt}] (object);
  \draw (fibheap) edge[downobj={20pt}{203pt}] (object);
  \draw (ignore) edge[downobj={20pt}{206pt}] (object);
  \draw (nil) edge[downobj={20pt}{210pt}] (object);
  \draw (ordpair) edge[downobj={20pt}{213pt}] (object);
  \draw (sitepair) edge[downobj={20pt}{216pt}] (object);

  \draw (lutvec) edge[inh] (valueset);
  \draw (wwinbase) edge[inh] (wwindow);
  \draw (winbase) edge[inh] (window);
  \draw (graphwinbase) edge[inh] (window);
  \draw (fvv2v) edge[inh] (function);
  \draw (fv2vgreen) edge[inh] (function);
  \draw (fv2vred) edge[inh] (function);
  \draw (fv2v) edge[inh] (function);
  \draw (fvv2b) edge[inh] (function);
  \draw (fv2vblue) edge[inh] (function);
  \draw (pixiter) edge[inh] (genpixel);
  \draw (pixiter) edge[inh] (iterator);
  \draw (crisequence) edge[inh] (iterator);
  \draw (valueiter) edge[inh] (iterator);
  \draw (cplxiterbase) edge[inh] (iterator);
  \draw (snakegeneric) edge[inh] (browsing);
  \draw (snakevert) edge[inh] (browsing);
  \draw (backdiag) edge[inh] (browsing);
  \draw (diag) edge[inh] (browsing);
  \draw (dirstruct) edge[inh] (browsing);
  \draw (directional) edge[inh] (browsing);
  \draw (fwdt) edge[inh] (browsing);
  \draw (hyperdir) edge[inh] (browsing);
  \draw (graphfirst) edge[inh] (browsing);
  \draw (snakefwd) edge[inh] (browsing);
  \draw (dpointE) edge[inh] (deltapsite);
  \draw (dpointGC) edge[inh] (gdpoint);
  \draw (graphbase) edge[inh] (graph);
  \draw (lwhite) edge[inh] (literal);
  \draw (lyellow) edge[inh] (literal);
  \draw (lzero) edge[inh] (literal);
  \draw (lblack) edge[inh] (literal);
  \draw (lblue) edge[inh] (literal);
  \draw (lbrown) edge[inh] (literal);
  \draw (lcyan) edge[inh] (literal);
  \draw (lgreen) edge[inh] (literal);
  \draw (lidentity) edge[inh] (literal);
  \draw (llightgray) edge[inh] (literal);
  \draw (llime) edge[inh] (literal);
  \draw (lmagenta) edge[inh] (literal);
  \draw (lmax) edge[inh] (literal);
  \draw (lmin) edge[inh] (literal);
  \draw (lolive) edge[inh] (literal);
  \draw (lone) edge[inh] (literal);
  \draw (lorange) edge[inh] (literal);
  \draw (lorigin) edge[inh] (literal);
  \draw (lpink) edge[inh] (literal);
  \draw (lpurple) edge[inh] (literal);
  \draw (lred) edge[inh] (literal);
  \draw (lteal) edge[inh] (literal);
  \draw (lviolet) edge[inh] (literal);
  \draw (reggrid) edge[inh] (mesh);
  \draw (amsum) edge[inh] (metaaccu);
  \draw (amsup) edge[inh] (metaaccu);
  \draw (ammaxsite) edge[inh] (metaaccu);
  \draw (amnil) edge[inh] (metaaccu);
  \draw (amp) edge[inh] (metaaccu);
  \draw (ampair) edge[inh] (metaaccu);
  \draw (amrms) edge[inh] (metaaccu);
  \draw (ambbox) edge[inh] (metaaccu);
  \draw (amheight) edge[inh] (metaaccu);
  \draw (amvolume) edge[inh] (metaaccu);
  \draw (amstmax) edge[inh] (metaaccu);
  \draw (amstmaxh) edge[inh] (metaaccu);
  \draw (amstmean) edge[inh] (metaaccu);
  \draw (amstmedalt) edge[inh] (metaaccu);
  \draw (amstmedh) edge[inh] (metaaccu);
  \draw (amstmin) edge[inh] (metaaccu);
  \draw (amstminh) edge[inh] (metaaccu);
  \draw (amstrank) edge[inh] (metaaccu);
  \draw (amstrankhq) edge[inh] (metaaccu);
  \draw (amtuple) edge[inh] (metaaccu);
  \draw (amval) edge[inh] (metaaccu);
  \draw (amdeviation) edge[inh] (metaaccu);
  \draw (amcenter) edge[inh] (metaaccu);
  \draw (amcountadj) edge[inh] (metaaccu);
  \draw (amcountlabels) edge[inh] (metaaccu);
  \draw (amcountvalue) edge[inh] (metaaccu);
  \draw (amhisto) edge[inh] (metaaccu);
  \draw (amlabelused) edge[inh] (metaaccu);
  \draw (amland) edge[inh] (metaaccu);
  \draw (amlandbasic) edge[inh] (metaaccu);
  \draw (amlor) edge[inh] (metaaccu);
  \draw (amlorbasic) edge[inh] (metaaccu);
  \draw (ammajh) edge[inh] (metaaccu);
  \draw (ammathcount) edge[inh] (metaaccu);
  \draw (ammathinf) edge[inh] (metaaccu);
  \draw (mfv2v) edge[inh] (metafun);
  \draw (mfvv2v) edge[inh] (metafun);
  \draw (mfv2vcomp) edge[inh] (mfcompa);
  \draw (mfvv2vcomp) edge[inh] (mfcompb);
  \draw (utilvertex) edge[inh] (vertexeximpl);
  \draw (gpoint) edge[inh] (site);
  \draw (valueproxy) edge[inh] (proxy);
  \draw (accumulator) edge[inh] (proxy);
  \draw (siteproxy) edge[inh] (proxy);
  \draw (timer) edge[inh] (proxy);
  \draw (boxE) edge[inh] (siteset);
  \draw (sitesetbase) edge[inh] (siteset);

  \draw (wwindowDW) edge[inh] (wwinbase);
  \draw (classicalwin) edge[inh] (winbase);
  \draw (winmultiple) edge[inh] (winbase);
  \draw (winmultsize) edge[inh] (winbase);
  \draw (windowD) edge[inh] (winbase);
  \draw (graphelt) edge[inh] (graphwinbase);
  \draw (grapheltif) edge[inh] (graphwinbase);
  \draw (grapheltmixed) edge[inh] (graphwinbase);
  \draw (diffabs) edge[inh] (fvv2v);
  \draw (vvland) edge[inh] (fvv2v);
  \draw (vvlandnot) edge[inh] (fvv2v);
  \draw (vvlxor) edge[inh] (fvv2v);
  \draw (vvmax) edge[inh] (fvv2v);
  \draw (vvmin) edge[inh] (fvv2v);
  \draw (vvlor) edge[inh] (fvv2v);
  \draw (vvvec) edge[inh] (fvv2v);
  \draw (chfv) edge[inh] (chfvimpl);
  \draw (chfv) edge[inh] (fv2v);
  \draw (linftynorm) edge[inh] (fv2v);
  \draw (v2w2vcos) edge[inh] (fv2v);
  \draw (wl1norm) edge[inh] (fv2v);
  \draw (wl2norm) edge[inh] (fv2v);
  \draw (wlinfty) edge[inh] (fv2v);
  \draw (bilinear) edge[inh] (fv2v);
  \draw (trilinear) edge[inh] (fv2v);
  \draw (x2xlinear) edge[inh] (fv2v);
  \draw (rotation) edge[inh] (fv2v);
  \draw (translation) edge[inh] (fv2v);
  \draw (fv2b) edge[inh] (fv2v);
  \draw (component) edge[inh] (fv2v);
  \draw (l1norm) edge[inh] (fv2v);
  \draw (l2norm) edge[inh] (fv2v);
  \draw (v2vlinear) edge[inh] (fv2v);
  \draw (implies) edge[inh] (fvv2b);
  \draw (le) edge[inh] (fvv2b);
  \draw (lt) edge[inh] (fvv2b);
  \draw (eq) edge[inh] (fvv2b);
  \draw (ge) edge[inh] (fvv2b);
  \draw (gt) edge[inh] (fvv2b);
  \draw (pixel) edge[inh] (genpixel);
  \draw (pixel) edge[priv] (piximpl);
  \draw (dpfwdpix) edge[inh] (piximpl);
  \draw (dpfwdpix) edge[inh] (pixiter);
  \draw (pixiterbase) edge[inh] (piximpl);
  \draw (pixiterbase) edge[inh] (pixiter);
  \draw (dpbkdpix) edge[inh] (piximpl);
  \draw (dpbkdpix) edge[inh] (pixiter);
  \draw (alhfbkd) edge[inh] (crisequence);
  \draw (alhffwd) edge[inh] (crisequence);
  \draw (centbkd) edge[inh] (crisequence);
  \draw (centfwd) edge[inh] (crisequence);
  \draw (crelbase) edge[inh] (cplxiterbase);
  \draw (csetbase) edge[inh] (cplxiterbase);
  \draw (bfs) edge[inh] (graphfirst);
  \draw (dfs) edge[inh] (graphfirst);
  \draw (utilgraph) edge[inh] (graphbase);
  \draw (linegraph) edge[inh] (graphbase);
  \draw (pointGC) edge[inh] (gpoint);
  \draw (accubase) edge[inh] (accumulator);
  \draw (siteiter) edge[inh] (siteproxy);
  \draw (pseudosite) edge[inh] (siteproxy);
  \draw (boxP) edge[inh] (boxE);
  \draw (pmutarr) edge[inh] (sitesetbase);
  \draw (ppriority) edge[inh] (sitesetbase);
  \draw (pqueue) edge[inh] (sitesetbase);
  \draw (pqueuefast) edge[inh] (sitesetbase);
  \draw (prun) edge[inh] (sitesetbase);
  \draw (pset) edge[inh] (sitesetbase);
  \draw (psetof) edge[inh] (sitesetbase);
  \draw (ptransf) edge[inh] (sitesetbase);
  \draw (pvaccess) edge[inh] (sitesetbase);
  \draw (pvertices) edge[inh] (sitesetbase);
  \draw (parray) edge[inh] (sitesetbase);
  \draw (pcentered) edge[inh] (sitesetbase);
  \draw (pcomplex) edge[inh] (sitesetbase);
  \draw (pedges) edge[inh] (sitesetbase);
  \draw (pfaces) edge[inh] (sitesetbase);
  \draw (pif) edge[inh] (sitesetbase);
  \draw (pimage) edge[inh] (sitesetbase);
  \draw (pkey) edge[inh] (sitesetbase);
  \draw (pline2d) edge[inh] (sitesetbase);

  \draw (rect2d) edge[inh] (classicalwin);
  \draw (backdiag2d) edge[inh] (classicalwin);
  \draw (ball) edge[inh] (classicalwin);
  \draw (cube3d) edge[inh] (classicalwin);
  \draw (cuboid3d) edge[inh] (classicalwin);
  \draw (diag2d) edge[inh] (classicalwin);
  \draw (winline) edge[inh] (classicalwin);
  \draw (octagon2d) edge[inh] (classicalwin);
  \draw (antilogy) edge[inh] (fv2b);
  \draw (tautology) edge[inh] (fv2b);
  \draw (lnot) edge[inh] (fv2b);
  \draw (threshold) edge[inh] (fv2b);
  \draw (isnface) edge[inh] (fv2b);
  \draw (issimple) edge[inh] (fv2b);
  \draw (isseparator) edge[inh] (fv2b);
  \draw (fwdpixbase) edge[inh] (pixiterbase);
  \draw (bkdpixbase) edge[inh] (pixiterbase);
  \draw (fwdcrelbase) edge[inh] (crelbase);
  \draw (bkdcrelbase) edge[inh] (crelbase);
  \draw (snffwd) edge[inh] (csetbase);
  \draw (facebkd) edge[inh] (csetbase);
  \draw (facefwd) edge[inh] (csetbase);
  \draw (nfacebkd) edge[inh] (csetbase);
  \draw (nfacefwd) edge[inh] (csetbase);
  \draw (snfbkd) edge[inh] (csetbase);
  \draw (ashvolume) edge[inh] (accubase);
  \draw (adeviation) edge[inh] (accubase);
  \draw (astmax) edge[inh] (accubase);
  \draw (astmaxh) edge[inh] (accubase);
  \draw (astmean) edge[inh] (accubase);
  \draw (astmedalt) edge[inh] (accubase);
  \draw (astmedh) edge[inh] (accubase);
  \draw (astmin) edge[inh] (accubase);
  \draw (astminh) edge[inh] (accubase);
  \draw (astrank) edge[inh] (accubase);
  \draw (astrankbool) edge[inh] (accubase);
  \draw (astrankhq) edge[inh] (accubase);
  \draw (astvar) edge[inh] (accubase);
  \draw (astvariance) edge[inh] (accubase);
  \draw (atuple) edge[inh] (accubase);
  \draw (aval) edge[inh] (accubase);
  \draw (macard) edge[inh] (accubase);
  \draw (macountadj) edge[inh] (accubase);
  \draw (maheight) edge[inh] (accubase);
  \draw (masharp) edge[inh] (accubase);
  \draw (masum) edge[inh] (accubase);
  \draw (mavolume) edge[inh] (accubase);
  \draw (apairminmax) edge[inh] (accubase);
  \draw (amedaltset) edge[inh] (accubase);
  \draw (acenter) edge[inh] (accubase);
  \draw (aconvolve) edge[inh] (accubase);
  \draw (acountadj) edge[inh] (accubase);
  \draw (acountlabels) edge[inh] (accubase);
  \draw (acountvalue) edge[inh] (accubase);
  \draw (ahisto) edge[inh] (accubase);
  \draw (acouple) edge[inh] (accubase);
  \draw (alabelused) edge[inh] (accubase);
  \draw (aland) edge[inh] (accubase);
  \draw (alandbasic) edge[inh] (accubase);
  \draw (alor) edge[inh] (accubase);
  \draw (alorbasic) edge[inh] (accubase);
  \draw (amajh) edge[inh] (accubase);
  \draw (amathcount) edge[inh] (accubase);
  \draw (amathinf) edge[inh] (accubase);
  \draw (amathsum) edge[inh] (accubase);
  \draw (amathsup) edge[inh] (accubase);
  \draw (amaxsite) edge[inh] (accubase);
  \draw (anil) edge[inh] (accubase);
  \draw (ap) edge[inh] (accubase);
  \draw (apair) edge[inh] (accubase);
  \draw (arms) edge[inh] (accubase);
  \draw (abbox) edge[inh] (accubase);
  \draw (aheight) edge[inh] (accubase);
  \draw (siteiterbase) edge[inh] (siteiter);
  \draw (pseudositebase) edge[inh] (pseudosite);

  \draw (fwdpix1d) edge[inh] (fwdpixbase);
  \draw (fwdpix2d) edge[inh] (fwdpixbase);
  \draw (fwdpix3d) edge[inh] (fwdpixbase);
  \draw (bkdpix1d) edge[inh] (bkdpixbase);
  \draw (bkdpix2d) edge[inh] (bkdpixbase);
  \draw (bkdpix3d) edge[inh] (bkdpixbase);
  \draw (centeronly) edge[inh] (fwdcrelbase);
  \draw (ahdcfwd) edge[inh] (fwdcrelbase);
  \draw (ahffwd) edge[inh] (fwdcrelbase);
  \draw (aldcfwd) edge[inh] (fwdcrelbase);
  \draw (alffwd) edge[inh] (fwdcrelbase);
  \draw (amffwd) edge[inh] (fwdcrelbase);
  \draw (amfbkd) edge[inh] (bkdcrelbase);
  \draw (ahdcbkd) edge[inh] (bkdcrelbase);
  \draw (ahfbkd) edge[inh] (bkdcrelbase);
  \draw (aldcbkd) edge[inh] (bkdcrelbase);
  \draw (alfbkd) edge[inh] (bkdcrelbase);
  \draw (rectangularity) edge[inh] (acouple);
  \draw (minmax) edge[inh] (apair);
  \draw (siterelbase) edge[tight] (siteiterbase);
  \draw (sitesetiterbase) edge[tight] (siteiterbase);
  \draw (facespsite) edge[tight] (pseudositebase);
  \draw (pidxpsite) edge[tight] (pseudositebase);
  \draw (cplxpsite) edge[tight] (pseudositebase);

  \draw (cwinfwd) edge[tight] (siterelbase);
  \draw (dpsbkd) edge[tight] (siterelbase);
  \draw (dpsfwd) edge[tight] (siterelbase);
  \draw (cnbhbkd) edge[tight] (siterelbase);
  \draw (cnbhfwd) edge[tight] (siterelbase);
  \draw (cwinbkd) edge[tight] (siterelbase);
  \draw (gwinpiter) edge[tight] (implsel);
  \draw (gwinpiter) edge[tight] (siterelbase);
  \draw (gwinifpiter) edge[tight] (maskedsel);
  \draw (gwinifpiter) edge[tight] (siterelbase);
  \draw (ptransfpiter) edge[tight] (sitesetiterbase);
  \draw (runendpiter) edge[tight] (sitesetiterbase);
  \draw (runstartpiter) edge[tight] (sitesetiterbase);
  \draw (pcplxpiterbase) edge[tight] (sitesetiterbase);
  \draw (pgraphpiter) edge[tight] (sitesetiterbase);
  \draw (pidxbkd) edge[tight] (sitesetiterbase);
  \draw (pidxfwd) edge[tight] (sitesetiterbase);
  \draw (pnfacesbkd) edge[tight] (pcplxpiterbase);
  \draw (pnfacesfwd) edge[tight] (pcplxpiterbase);
\end{tikzpicture}
\end{document}
